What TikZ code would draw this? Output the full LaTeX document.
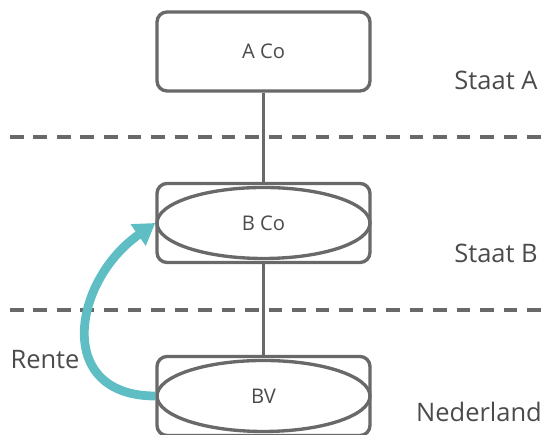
\documentclass[tikz,border=0pt]{standalone}
\usepackage{fontspec}
\setmainfont{Open Sans}
\usetikzlibrary{arrows.meta,shapes.geometric}
\definecolor{lijngrijs}{RGB}{105,105,105}
\definecolor{tekstgrijs}{RGB}{75,75,75}
\definecolor{renteblauw}{RGB}{94,190,196}
\tikzset{
    >=Stealth,
    every node/.append style={align=center,text=tekstgrijs},
    entity/.style={rectangle,rounded corners=0.2cm,draw=lijngrijs,line width=1.9pt,minimum width=4.26cm,minimum height=1.58cm,font=\fontsize{11.5}{13}\selectfont},
    hybride/.style={ellipse,draw=lijngrijs,line width=1.9pt,minimum width=4.26cm,minimum height=1.42cm,inner sep=0pt,font=\fontsize{11.5}{13}\selectfont},
    staat/.style={font=\fontsize{14.5}{16}\selectfont},
    grens/.style={draw=lijngrijs,line width=2pt,dash pattern=on 0.27cm off 0.2cm},
    link/.style={draw=lijngrijs,line width=1.9pt},
    rente/.style={draw=renteblauw,line width=5pt,-{Triangle[length=0.42cm,width=0.5cm]}},
}
\begin{document}
\begin{tikzpicture}
    \useasboundingbox (0,0) rectangle (10.9,8.7);
    % grenzen tussen de staten
    \coordinate (g1l) at (0.2,5.96);
    \coordinate (g1r) at (10.9,5.96);
    \coordinate (g2l) at (0.2,2.5);
    \coordinate (g2r) at (10.9,2.5);
    \draw[grens] (g1l) -- (g1r);
    \draw[grens] (g2l) -- (g2r);

    \node[entity] (aco) at (5.27,7.67) {A Co};
    \node[entity] (bcobox) at (5.27,4.24) {};
    \node[hybride] (bco) at (5.27,4.24) {B Co};
    \node[entity] (bvbox) at (5.27,0.78) {};
    \node[hybride] (bv) at (5.27,0.78) {BV};

    \node[staat] (sa) at (9.92,7.1) {Staat A};
    \node[staat] (sb) at (9.92,3.64) {Staat B};
    \node[staat] (nl) at (9.58,0.46) {Nederland};
    \node[staat] (rt) at (0.9,1.5) {Rente};

    \path[link] (aco) -- (bcobox);
    \path[link] (bcobox) -- (bvbox);

    \draw[rente] (bv.west) to[out=180,in=215,looseness=1.5] (bco.west);
\end{tikzpicture}
\end{document}
